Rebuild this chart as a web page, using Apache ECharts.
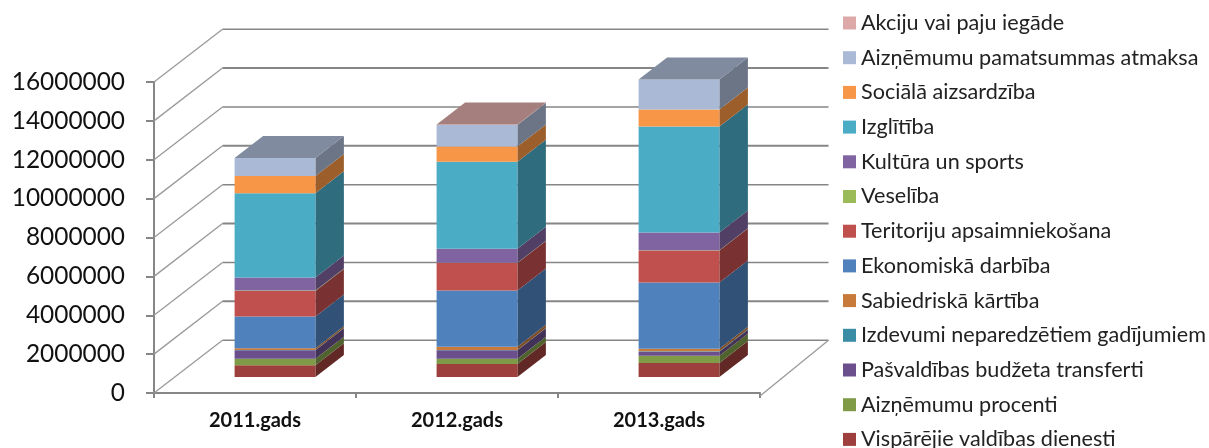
<!DOCTYPE html>
<html><head><meta charset="utf-8">
<style>html,body{margin:0;padding:0;background:#fff}#c{width:1209px;height:448px}</style>
<script src="https://cdn.jsdelivr.net/npm/echarts@6/dist/echarts.min.js"></script>
</head><body><div id="c"></div>
<script>
const categories = ['2011.gads','2012.gads','2013.gads'];
const tickValues = [0,2000000,4000000,6000000,8000000,10000000,12000000,14000000,16000000];
const visparejie = [600000,670000,720000];
const aiznProcenti = [345000,275000,378000];
const transferti = [430000,430000,206000];
const neparedzeti = [15000,15000,15000];
const sabiedriska = [90000,170000,137000];
const ekonomiska = [1630000,2890000,3400000];
const teritoriju = [1320000,1410000,1650000];
const veseliba = [20000,20000,20000];
const kultura = [670000,720000,910000];
const izglitiba = [4330000,4470000,5450000];
const socialā = [890000,790000,876000];
const pamatsumma = [925000,1110000,1540000];
const akcijas = [0,20000,0];

const seriesDefs = [
 ['Vispārējie valdības dienesti', visparejie, '#9C3F3D'],
 ['Aizņēmumu procenti', aiznProcenti, '#7F9B48'],
 ['Pašvaldības budžeta transferti', transferti, '#6A4F8C'],
 ['Izdevumi neparedzētiem gadījumiem', neparedzeti, '#3B8CA5'],
 ['Sabiedriskā kārtība', sabiedriska, '#C87A3A'],
 ['Ekonomiskā darbība', ekonomiska, '#4F81BD'],
 ['Teritoriju apsaimniekošana', teritoriju, '#C0504D'],
 ['Veselība', veseliba, '#9BBB59'],
 ['Kultūra un sports', kultura, '#8064A2'],
 ['Izglītība', izglitiba, '#4BACC6'],
 ['Sociālā aizsardzība', socialā, '#F79646'],
 ['Aizņēmumu pamatsummas atmaksa', pamatsumma, '#AAB9D5'],
 ['Akciju vai paju iegāde', akcijas, '#DCA9A8']
];

function shade(hex,k){
  const n=parseInt(hex.slice(1),16);
  return 'rgb('+[(n>>16)&255,(n>>8)&255,n&255].map(v=>Math.round(v*k)).join(',')+')';
}
const GREY='#868686', WALL=[68.5,-52.8], BAR_OFF=[20,-16], BAR_D=[28.5,-22], BAR_W=0.4;

const wallSeries={type:'custom',coordinateSystem:'cartesian2d',silent:true,clip:false,z:1,
  data:tickValues.map(v=>[0,v]),encode:{x:0,y:1},
  renderItem(p,api){
    const c=api.coord([0,api.value(1)]), bw=api.size([1,0])[0];
    const x0=c[0]-bw/2, y=c[1], x1=x0+WALL[0], y1=y+WALL[1], x2=x0+3*bw+WALL[0];
    return {type:'group',children:[
      {type:'line',shape:{x1:x0,y1:y,x2:x1,y2:y1},style:{stroke:'#9a9a9a',lineWidth:1.3}},
      {type:'line',shape:{x1:x1,y1:y1,x2:x2,y2:y1},style:{stroke:GREY,lineWidth:p.dataIndex%2?2:1.6}}
    ]};
  }};
const floorSeries={type:'custom',coordinateSystem:'cartesian2d',silent:true,clip:false,z:1,
  data:[[2,0]],encode:{x:0,y:1},
  renderItem(p,api){
    const c=api.coord([2,0]), bw=api.size([1,0])[0], x=c[0]+bw/2;
    return {type:'line',shape:{x1:x,y1:c[1]+3,x2:x+WALL[0],y2:c[1]+WALL[1]},style:{stroke:'#9a9a9a',lineWidth:1.3}};
  }};

const cum=categories.map(()=>0);
const lastIdx=categories.map((_,i)=>{let l=0;seriesDefs.forEach((s,k)=>{if(s[1][i]>0)l=k});return l});
const barSeries=seriesDefs.map(([name,vals,color],k)=>{
  const data=vals.map((v,i)=>{const b=cum[i];cum[i]+=v;return [i,b,cum[i],lastIdx[i]===k?1:0]});
  return {name,type:'custom',coordinateSystem:'cartesian2d',clip:false,z:5,
    itemStyle:{color},data,encode:{x:0,y:[1,2]},
    renderItem(p,api){
      if(api.value(2)<=api.value(1))return null;
      const c0=api.coord([api.value(0),api.value(1)]), c1=api.coord([api.value(0),api.value(2)]);
      const w=api.size([1,0])[0]*BAR_W;
      const l=c0[0]+BAR_OFF[0]-w/2, r=l+w, yb=c0[1]+BAR_OFF[1], yt=c1[1]+BAR_OFF[1];
      const dx=BAR_D[0], dy=BAR_D[1];
      const ch=[
        {type:'polygon',shape:{points:[[r,yb],[r+dx,yb+dy],[r+dx,yt+dy],[r,yt]]},style:{fill:shade(color,0.63)}},
        {type:'rect',shape:{x:l,y:yt,width:w,height:yb-yt},style:{fill:color}}
      ];
      if(api.value(3))ch.push({type:'polygon',shape:{points:[[l,yt],[l+dx,yt+dy],[r+dx,yt+dy],[r,yt]]},style:{fill:shade(color,0.75)}});
      return {type:'group',children:ch};
    }};
});

const chart=echarts.init(document.getElementById('c'),null,{renderer:'canvas'});
chart.setOption({
  animation:false,
  backgroundColor:'#fff',
  grid:{left:154,right:449,top:82,bottom:55},
  xAxis:{type:'category',data:categories,
    axisLine:{lineStyle:{color:GREY,width:2}},
    axisTick:{show:true,length:5,lineStyle:{color:GREY,width:2}},
    axisLabel:{margin:18,fontFamily:'Lato',fontWeight:'bold',fontSize:20,color:'#111'}},
  yAxis:{type:'value',min:0,max:16000000,interval:2000000,
    axisLine:{show:true,lineStyle:{color:GREY,width:2}},
    axisTick:{show:true,length:8,lineStyle:{color:GREY,width:2}},
    splitLine:{show:false},
    axisLabel:{margin:29,fontFamily:'Lato',fontSize:24.4,color:'#111',formatter:v=>String(v)}},
  legend:{orient:'vertical',left:843,top:12,height:600,width:366,itemWidth:13,itemHeight:13,itemGap:12.7,itemStyle:{borderWidth:0},icon:'rect',
    selectedMode:false,data:seriesDefs.map(s=>s[0]).reverse(),
    textStyle:{fontFamily:'Lato',fontSize:21.6,color:'#222'},
    padding:0},
  series:[wallSeries,floorSeries,...barSeries]
});
</script></body></html>
